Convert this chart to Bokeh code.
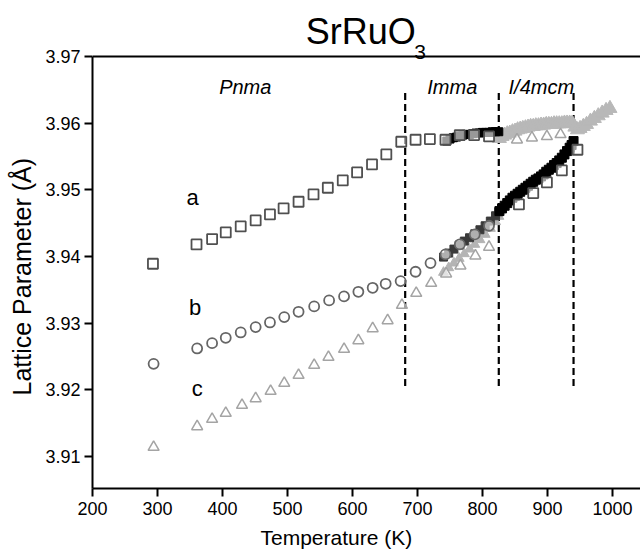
from bokeh.plotting import figure
from bokeh.models import FixedTicker, PrintfTickFormatter, Label, Range1d, Span, Title
from bokeh.embed import file_html
from bokeh.resources import INLINE

FONT = "Liberation Sans"

# ---- data ----
a_T = [293, 360, 384, 405, 428, 451, 473, 494, 517, 540, 562, 585, 607, 630, 652, 675, 697, 719, 743, 765, 787, 810,
       856, 878, 899, 922, 946]
a_v = [3.9389, 3.9418, 3.9426, 3.9436, 3.9445, 3.9454, 3.9463, 3.9472, 3.9482, 3.9493, 3.9503, 3.9514, 3.9526, 3.9538,
       3.9553, 3.9572, 3.9575, 3.9576, 3.9575, 3.9582, 3.9582, 3.9580,
       3.9478, 3.9495, 3.9511, 3.9529, 3.9560]

b_T = [294, 361, 384, 405, 428, 451, 473, 495, 517, 541, 564, 587, 609, 631, 651, 674, 697, 720, 743, 765, 788, 810]
b_v = [3.9239, 3.9262, 3.9270, 3.9278, 3.9286, 3.9294, 3.9301, 3.9309, 3.9317, 3.9325, 3.9334, 3.9340, 3.9347, 3.9353,
       3.9359, 3.9363, 3.9377, 3.9390, 3.9403, 3.9418, 3.9433, 3.9446]

c_T = [294, 361, 384, 405, 430, 451, 474, 495, 517, 541, 563, 587, 609, 631, 654, 676, 698, 721, 744, 766, 789, 810,
       853, 876, 899, 920]
c_v = [3.9114, 3.9145, 3.9156, 3.9165, 3.9177, 3.9187, 3.9198, 3.9210, 3.9222, 3.9237, 3.9249, 3.9261, 3.9274, 3.9292,
       3.9304, 3.9327, 3.9345, 3.9360, 3.9374, 3.9386, 3.9401, 3.9414,
       3.9575, 3.9578, 3.9580, 3.9583]

# high-resolution data (dense bands)
ha_imma_T = [745, 750, 755, 760, 765, 770, 775, 780, 785, 790, 795, 800, 805, 810, 815, 820, 825]
ha_imma_v = [3.9573, 3.9576, 3.9578, 3.9579, 3.9581, 3.9582, 3.9583, 3.9583, 3.9584, 3.9585, 3.9585, 3.9586, 3.9586,
             3.9586, 3.9587, 3.9587, 3.9587]

hab_tet_T = [826, 830, 834, 838, 842, 846, 850, 854, 858, 862, 866, 870, 874, 878, 882, 886, 890, 894, 898, 902, 906,
             910, 914, 918, 922, 926, 930, 934, 937, 940]
hab_tet_v = [3.9468, 3.9472, 3.9476, 3.9480, 3.9484, 3.9488, 3.9491, 3.9494, 3.9497, 3.9500, 3.9503, 3.9506, 3.9509,
             3.9512, 3.9515, 3.9517, 3.9520, 3.9523, 3.9527, 3.9530, 3.9533, 3.9537, 3.9540, 3.9544, 3.9548, 3.9553,
             3.9558, 3.9563, 3.9567, 3.9573]

hb_imma_T = [740, 748, 756, 764, 772, 780, 788, 796, 804, 812, 820, 825]
hb_imma_v = [3.9399, 3.9405, 3.9411, 3.9417, 3.9423, 3.9428, 3.9434, 3.9440, 3.9446, 3.9453, 3.9461, 3.9467]

hc_imma_T = [740, 748, 756, 764, 772, 780, 788, 796, 804, 812, 820, 825]
hc_imma_v = [3.9376, 3.9383, 3.9390, 3.9397, 3.9404, 3.9411, 3.9418, 3.9425, 3.9433, 3.9442, 3.9452, 3.9460]

hc_tet_T = [826, 830, 834, 838, 842, 846, 850, 854, 858, 862, 866, 870, 874, 878, 882, 886, 890, 894, 898, 902, 906,
            910, 914, 918, 922, 926, 930, 934, 938, 942, 946, 950, 955, 960, 966, 972, 978, 984, 990, 996]
hc_tet_v = [3.9577, 3.9580, 3.9582, 3.9584, 3.9585, 3.9587, 3.9588, 3.9590, 3.9591, 3.9592, 3.9593, 3.9594, 3.9595,
            3.9595, 3.9596, 3.9596, 3.9597, 3.9597, 3.9598, 3.9598, 3.9598, 3.9599, 3.9599, 3.9599, 3.9599, 3.9600,
            3.9600, 3.9600, 3.9600, 3.9594, 3.9590, 3.9592, 3.9595, 3.9598, 3.9603, 3.9607, 3.9611, 3.9615, 3.9619,
            3.9622]

transitions_T = [681, 825, 940]
phase_names = ["Pnma", "Imma", "I/4mcm"]
x_ticks = [200, 300, 400, 500, 600, 700, 800, 900, 1000]
y_ticks = [3.91, 3.92, 3.93, 3.94, 3.95, 3.96, 3.97]
Y_MIN, Y_MAX = 3.9052, 3.97

# ---- figure (frame reaches the top of the page; the plot box ends at 3.97) ----
p = figure(width=640, height=557, output_backend="svg", toolbar_location=None,
           x_range=Range1d(200, 1043), y_range=Range1d(Y_MIN, 3.97838),
           min_border_left=92, min_border_right=0, min_border_top=0, min_border_bottom=69)
p.xgrid.visible = False
p.ygrid.visible = False
p.outline_line_color = None
p.background_fill_color = "white"
p.border_fill_color = "white"

for ax in (p.xaxis[0], p.yaxis[0]):
    ax.axis_line_width = 2
    ax.axis_line_color = "black"
    ax.major_tick_line_width = 2
    ax.major_tick_in = 0
    ax.major_tick_out = 8
    ax.minor_tick_line_color = None
    ax.major_label_text_font = FONT
    ax.major_label_text_font_size = "18px"
    ax.major_label_text_color = "black"

p.xaxis.ticker = FixedTicker(ticks=x_ticks)
p.yaxis.ticker = FixedTicker(ticks=y_ticks)
p.yaxis.bounds = (Y_MIN, Y_MAX)
p.yaxis.formatter = PrintfTickFormatter(format="%.2f")
p.xaxis.major_label_standoff = 5
p.yaxis.major_label_standoff = 4

# top border of the plot box
p.add_layout(Span(location=Y_MAX, dimension="width", line_color="black", line_width=2))

# axis titles (placed as side titles so they sit where the reference has them)
p.add_layout(Title(text="Temperature (K)", align="left", offset=168, text_font=FONT,
                   text_font_size="21px", text_font_style="normal", text_color="black", standoff=12), "below")
p.add_layout(Title(text="Lattice Parameter (Å)", align="left", offset=93, vertical_align="top", text_font=FONT,
                   text_font_size="25px", text_font_style="normal", text_color="black", standoff=10), "left")

# dashed phase boundaries
p.segment(x0=transitions_T, y0=[3.9645] * 3, x1=transitions_T, y1=[3.9204] * 3,
          line_color="black", line_width=2.2, line_dash="7 4")

# high-res bands
p.scatter(hc_imma_T, hc_imma_v, marker="triangle", size=10, fill_color="#b4b4b4", line_color="#b4b4b4")
p.scatter(hb_imma_T, hb_imma_v, marker="square", size=8, fill_color="#3a3a3a", line_color="#3a3a3a")
p.scatter(hc_tet_T, hc_tet_v, marker="triangle", size=14, fill_color="#b8b8b8", line_color="#b8b8b8")
p.scatter(ha_imma_T, ha_imma_v, marker="square", size=8, fill_color="black", line_color="black")
p.scatter(hab_tet_T, hab_tet_v, marker="square", size=9, fill_color="black", line_color="black")

# lab data
p.scatter(c_T, c_v, marker="triangle", size=11, fill_color="white", fill_alpha=0.6,
          line_color="#a4a4a4", line_width=1.5)
p.scatter(b_T, b_v, marker="circle", size=10, fill_color="white", fill_alpha=0.6,
          line_color="#666666", line_width=1.8)
p.scatter(a_T, a_v, marker="square", size=10, fill_color="white", fill_alpha=0.6,
          line_color="#505050", line_width=1.8)

# series letters
for txt, xx, yy in [("a", 354, 3.94885), ("b", 358, 3.93235), ("c", 361, 3.92021)]:
    p.add_layout(Label(x=xx, y=yy, text=txt, text_font=FONT, text_font_size="22px",
                       text_align="center", text_baseline="middle", text_color="black"))

# phase names
for txt, xx, al in [(phase_names[0], 435, "center"), (phase_names[1], 715, "left"), (phase_names[2], 840, "left")]:
    p.add_layout(Label(x=xx, y=3.9654, text=txt, text_font=FONT, text_font_size="20px",
                       text_font_style="italic", text_align=al, text_baseline="middle", text_color="black"))

# title with subscript
p.add_layout(Label(x=528, y=3.97371, text="SrRuO", text_font=FONT, text_font_size="36px",
                   text_align="left", text_baseline="alphabetic", text_color="black"))
p.add_layout(Label(x=695, y=3.9706, text="3", text_font=FONT, text_font_size="21px",
                   text_align="left", text_baseline="alphabetic", text_color="black"))

open("out.html", "w").write(file_html(p, INLINE))
